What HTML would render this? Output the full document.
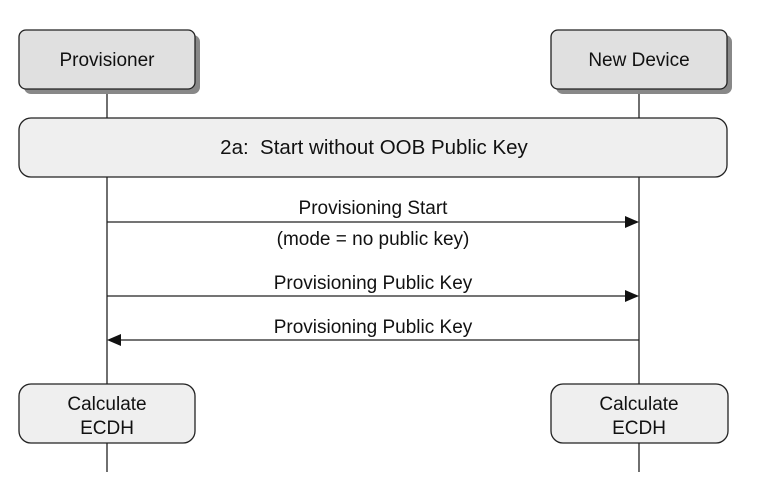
<!DOCTYPE html>
<html><head><style>body{margin:0;background:#fff}text{white-space:pre}</style></head><body>
<svg width="757" height="487" xmlns="http://www.w3.org/2000/svg" font-family="Liberation Sans, Arial, sans-serif" font-size="19" fill="#111">
<line x1="107" y1="89" x2="107" y2="472" stroke="#222" stroke-width="1.3"/>
<line x1="639" y1="89" x2="639" y2="472" stroke="#222" stroke-width="1.3"/>
<rect x="24" y="35" width="176" height="59" rx="7" fill="#888"/>
<rect x="19" y="30" width="176" height="59" rx="7" fill="#e0e0e0" stroke="#222" stroke-width="1.3"/>
<text x="107" y="66" text-anchor="middle">Provisioner</text>
<rect x="556" y="35" width="176" height="59" rx="7" fill="#888"/>
<rect x="551" y="30" width="176" height="59" rx="7" fill="#e0e0e0" stroke="#222" stroke-width="1.3"/>
<text x="639" y="66" text-anchor="middle">New Device</text>
<rect x="19" y="118" width="708" height="59" rx="12" fill="#efefef" stroke="#222" stroke-width="1.3"/>
<text x="374" y="154" text-anchor="middle" font-size="20.5" xml:space="preserve">2a:  Start without OOB Public Key</text>
<line x1="107" y1="222" x2="627" y2="222" stroke="#222" stroke-width="1.3"/>
<polygon points="639,222 625,216 625,228" fill="#111"/>
<text x="373" y="214" text-anchor="middle">Provisioning Start</text>
<text x="373" y="245" text-anchor="middle">(mode = no public key)</text>
<line x1="107" y1="296" x2="627" y2="296" stroke="#222" stroke-width="1.3"/>
<polygon points="639,296 625,290 625,302" fill="#111"/>
<text x="373" y="289" text-anchor="middle">Provisioning Public Key</text>
<line x1="119" y1="340" x2="639" y2="340" stroke="#222" stroke-width="1.3"/>
<polygon points="107,340 121,334 121,346" fill="#111"/>
<text x="373" y="333" text-anchor="middle">Provisioning Public Key</text>
<rect x="19" y="384" width="176" height="59" rx="12" fill="#efefef" stroke="#222" stroke-width="1.3"/>
<text x="107" y="410" text-anchor="middle">Calculate</text>
<text x="107" y="434" text-anchor="middle">ECDH</text>
<rect x="551" y="384" width="177" height="59" rx="12" fill="#efefef" stroke="#222" stroke-width="1.3"/>
<text x="639" y="410" text-anchor="middle">Calculate</text>
<text x="639" y="434" text-anchor="middle">ECDH</text>
</svg>
</body></html>
